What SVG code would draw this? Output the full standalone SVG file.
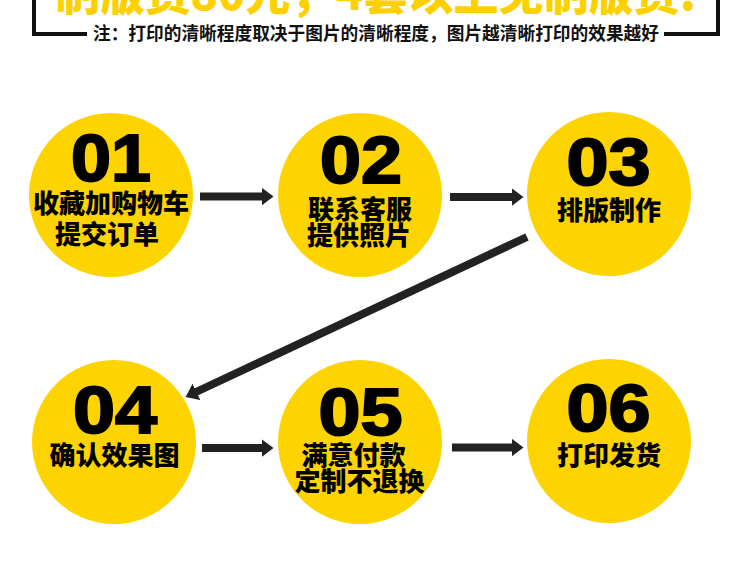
<svg xmlns="http://www.w3.org/2000/svg" width="750" height="576" viewBox="0 0 750 576">
<style>
.bg{fill:#ffffff}
.frame{fill:none;stroke:#111;stroke-width:4}
.head{font-family:"Noto Sans CJK SC","Liberation Sans",sans-serif;font-weight:900;fill:#FDD100}
.note{font-family:"Noto Sans CJK SC","Liberation Sans",sans-serif;font-weight:700;font-size:18px;fill:#111}
.circ{fill:#FDD300}
.num{font-family:"Liberation Sans",Arial,sans-serif;font-weight:700;font-size:66px;fill:#000;stroke:#000;stroke-width:2;text-anchor:middle}
.lab{font-family:"Noto Sans CJK SC","Liberation Sans",sans-serif;font-weight:900;font-size:26px;fill:#000;text-anchor:middle}
.arr{stroke:#222;stroke-width:8;fill:none}
</style>
<defs>
<marker id="ah" markerUnits="userSpaceOnUse" viewBox="0 0 12 18" markerWidth="12" markerHeight="18" refX="0.5" refY="9" orient="auto">
<path d="M0,0 L12,9 L0,18 Z" fill="#222"/>
</marker>
</defs>
<rect class="bg" x="0" y="0" width="750" height="576"/>
<g id="header">
<text class="head" x="55" y="10" font-size="46" textLength="642" lengthAdjust="spacingAndGlyphs">制版费80元，4套以上免制版费!</text>
<path class="frame" d="M34,0 V34 H87"/>
<path class="frame" d="M664,34 H718 V0"/>
<text class="note" x="93" y="40" textLength="566" lengthAdjust="spacingAndGlyphs">注：打印的清晰程度取决于图片的清晰程度，图片越清晰打印的效果越好</text>
</g>
<g id="connectors">
<line class="arr" x1="200" y1="196.5" x2="262" y2="196.5" marker-end="url(#ah)"/>
<line class="arr" x1="450" y1="197" x2="512" y2="197" marker-end="url(#ah)"/>
<line class="arr" x1="527" y1="237" x2="196" y2="392" marker-end="url(#ah)"/>
<line class="arr" x1="202" y1="448" x2="262" y2="448" marker-end="url(#ah)"/>
<line class="arr" x1="452" y1="447.5" x2="512" y2="447.5" marker-end="url(#ah)"/>
</g>
<g id="step01">
<circle class="circ" cx="111" cy="195" r="82"/>
<text class="num" x="111" y="181" textLength="80" lengthAdjust="spacingAndGlyphs">01</text>
<text class="lab" x="111" y="213">收藏加购物车</text>
<text class="lab" x="107" y="244">提交订单</text>
</g>
<g id="step02">
<circle class="circ" cx="360" cy="195" r="82"/>
<text class="num" x="361" y="183" textLength="82" lengthAdjust="spacingAndGlyphs">02</text>
<text class="lab" x="360" y="219">联系客服</text>
<text class="lab" x="359" y="245">提供照片</text>
</g>
<g id="step03">
<circle class="circ" cx="609" cy="194" r="82"/>
<text class="num" x="608.5" y="185" textLength="84" lengthAdjust="spacingAndGlyphs">03</text>
<text class="lab" x="609" y="220">排版制作</text>
</g>
<g id="step04">
<circle class="circ" cx="114" cy="442" r="82"/>
<text class="num" x="115" y="433" textLength="84" lengthAdjust="spacingAndGlyphs">04</text>
<text class="lab" x="114.5" y="465">确认效果图</text>
</g>
<g id="step05">
<circle class="circ" cx="360" cy="442" r="82"/>
<text class="num" x="360.5" y="435" textLength="84" lengthAdjust="spacingAndGlyphs">05</text>
<text class="lab" x="353.5" y="465">满意付款</text>
<text class="lab" x="359.5" y="491">定制不退换</text>
</g>
<g id="step06">
<circle class="circ" cx="609" cy="441" r="82"/>
<text class="num" x="608.5" y="431" textLength="84" lengthAdjust="spacingAndGlyphs">06</text>
<text class="lab" x="609" y="465">打印发货</text>
</g>
</svg>
